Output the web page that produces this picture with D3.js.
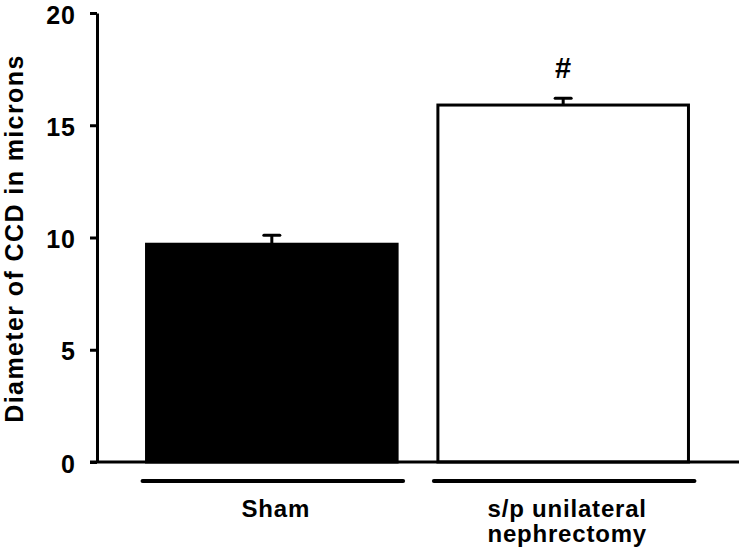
<!DOCTYPE html>
<html>
<head>
<meta charset="utf-8">
<script src="https://cdn.jsdelivr.net/npm/d3@7"></script>
<style>
  html, body { margin: 0; padding: 0; background: #fff; }
  svg { display: block; }
  text { font-family: "Liberation Sans", Arial, sans-serif; font-weight: bold; fill: #000; }
</style>
</head>
<body>
<svg id="chart" width="742" height="550"></svg>
<script>
const categories = ["Sham", "s/p unilateral\nnephrectomy"];
const means = [9.7, 15.9];
const errors = [0.4, 0.3];
const fills = ["#000000", "#ffffff"];
const marks = ["", "#"];
const yTicks = [0, 5, 10, 15, 20];
const yTitle = "Diameter of CCD in microns";

const svg = d3.select("#chart");
const y = d3.scaleLinear().domain([0, 20]).range([462, 13]);
const x = d3.scaleBand().domain(categories).range([97, 738]).paddingInner(0.14).paddingOuter(0.17);

// y axis
const yAxis = svg.append("g").attr("transform", "translate(97,0)")
  .call(d3.axisLeft(y).tickValues(yTicks).tickSize(7).tickPadding(14).tickSizeOuter(0));
yAxis.attr("font-size", null).attr("font-family", null);
yAxis.select(".domain").attr("stroke", "#000").attr("stroke-width", 3);
yAxis.selectAll(".tick line").attr("stroke", "#000").attr("stroke-width", 3);
yAxis.selectAll(".tick text").attr("dy", "0.4em").style("font-size", "25px").style("letter-spacing", "1px");

// bars
svg.append("g").selectAll("rect").data(categories).join("rect")
  .attr("x", d => x(d))
  .attr("y", (d, i) => y(means[i]))
  .attr("width", x.bandwidth())
  .attr("height", (d, i) => y(0) - y(means[i]))
  .attr("fill", (d, i) => fills[i])
  .attr("stroke", "#000")
  .attr("stroke-width", 3);

// error bars
const eg = svg.append("g").attr("stroke", "#000").attr("stroke-width", 3);
categories.forEach((c, i) => {
  const cx = x(c) + x.bandwidth() / 2;
  eg.append("line").attr("x1", cx).attr("x2", cx).attr("y1", y(means[i])).attr("y2", y(means[i] + errors[i]));
  eg.append("line").attr("x1", cx - 8).attr("x2", cx + 8).attr("y1", y(means[i] + errors[i])).attr("y2", y(means[i] + errors[i]))
    .attr("stroke-linecap", "round");
});

// significance marks
svg.append("g").selectAll("text").data(categories).join("text")
  .attr("x", d => x(d) + x.bandwidth() / 2)
  .attr("y", (d, i) => y(means[i] + errors[i]) - 20)
  .attr("text-anchor", "middle")
  .style("font-size", "29px")
  .text((d, i) => marks[i]);

// x axis baseline
svg.append("line").attr("x1", 90).attr("x2", 739).attr("y1", y(0)).attr("y2", y(0))
  .attr("stroke", "#000").attr("stroke-width", 3);

// group underlines
svg.append("g").selectAll("line").data(categories).join("line")
  .attr("x1", d => x(d) - 4)
  .attr("x2", d => x(d) + x.bandwidth() + 6)
  .attr("y1", 481).attr("y2", 481)
  .attr("stroke", "#000").attr("stroke-width", 4).attr("stroke-linecap", "round");

// category labels
const lab = svg.append("g").selectAll("text").data(categories).join("text")
  .attr("text-anchor", "middle")
  .attr("transform", d => `translate(${x(d) + x.bandwidth() / 2 + 4},517)`)
  .style("font-size", "24px")
  .style("letter-spacing", "0.8px");
lab.each(function(d) {
  const lines = d.split("\n");
  d3.select(this).selectAll("tspan").data(lines).join("tspan")
    .attr("x", 0).attr("dy", (l, j) => j === 0 ? 0 : 25).text(l => l);
});

// y title
svg.append("text")
  .attr("transform", `translate(23,${(y(0) + y(20)) / 2 + 1}) rotate(-90)`)
  .attr("text-anchor", "middle")
  .style("font-size", "25px")
  .style("letter-spacing", "1.4px")
  .text(yTitle);
</script>
</body>
</html>
